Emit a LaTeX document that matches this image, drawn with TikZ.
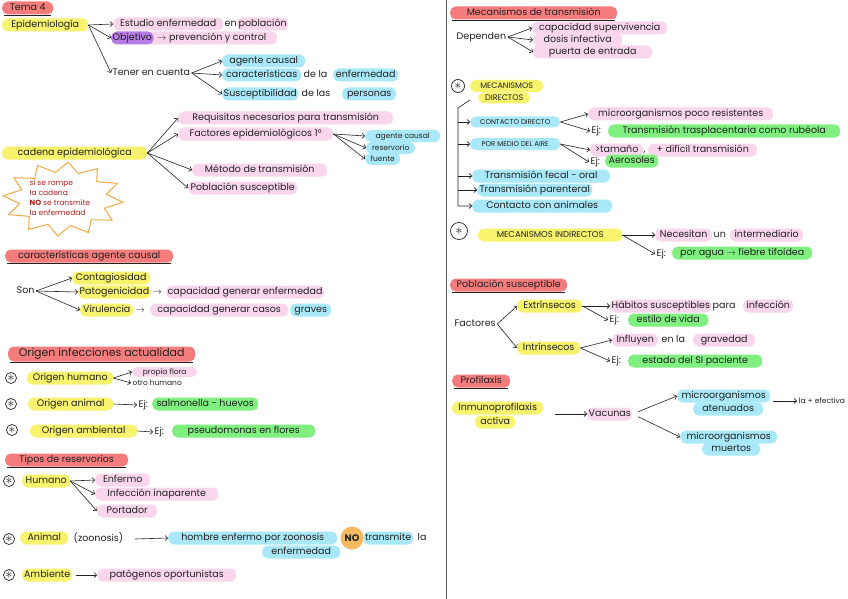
\documentclass[tikz,border=0pt]{standalone}
\usepackage{fontspec}
\setmainfont{Poppins}
\usetikzlibrary{arrows.meta,calc}
\definecolor{ink}{HTML}{222222}
\definecolor{yhl}{HTML}{F8F36C}
\definecolor{phl}{HTML}{FAD6EC}
\definecolor{bhl}{HTML}{A8E8F8}
\definecolor{ghl}{HTML}{7FF07F}
\definecolor{rhl}{HTML}{F47C7C}
\definecolor{vhl}{HTML}{B77CE6}
\definecolor{ohl}{HTML}{F5B95E}
\definecolor{starc}{HTML}{F6A945}
\definecolor{startx}{HTML}{B01C1C}
\definecolor{divc}{HTML}{555555}
\newcommand\fmain{\fontsize{9.5}{11}\selectfont}
\newcommand\fsmall{\fontsize{7.5}{8.5}\selectfont}
\newcommand\ftiny{\fontsize{7}{8}\selectfont}
\newcommand\fbig{\fontsize{11}{13}\selectfont}
\newcommand\bulsym{{\fontsize{15}{15}\selectfont$\ast$}}
\newcommand\hlnode[6]{\node[#1, minimum width={#4pt-#3pt}, anchor=west] (#2) at (#3,#5) {#6};}
\newcommand\ulnode[1]{\draw[uline] ([shift={(2pt,-0.3pt)}]#1.south west) -- ([shift={(-2pt,-0.3pt)}]#1.south east);}
\tikzset{
  every node/.append style={font=\fmain, text=ink, inner xsep=1.5pt, inner ysep=0pt},
  hb/.style={rounded corners=5.5pt, minimum height=13pt, text height=7pt, text depth=2pt},
  Yh/.style={hb, fill=yhl}, Ph/.style={hb, fill=phl}, Bh/.style={hb, fill=bhl},
  Gh/.style={hb, fill=ghl}, Rh/.style={hb, fill=rhl}, Vh/.style={hb, fill=vhl},
  tx/.style={text height=7pt, text depth=2pt},
  arr/.style={draw=ink, line width=0.6pt, -{Straight Barb[length=2.5pt,width=5pt]}},
  ln/.style={draw=ink, line width=0.6pt},
  uline/.style={draw=ink, line width=0.6pt},
  bul/.style={circle, draw=ink, line width=0.7pt, minimum size=11pt, inner sep=0pt},
}
\begin{document}
\begin{tikzpicture}[x=1pt,y=-1pt]
\useasboundingbox (0,0) rectangle (848,599);
\fill[white] (0,0) rectangle (848,599);
% divider
\draw[divc, line width=1pt] (446,0) -- (446,599);

% ================= LEFT COLUMN =================
\hlnode{Rh}{tema}{2}{53}{8}{Tema 4}
\ulnode{tema}
\hlnode{Yh}{epi}{2}{88}{25}{Epidemiología}
\hlnode{Ph}{est1}{113}{223}{24}{Estudio enfermedad}
\node[tx, anchor=west] (est2) at (223,24) {en};
\hlnode{Ph}{est3}{237}{288}{24}{población}
\hlnode{Ph}{obj2}{146}{277}{38}{$\to$ prevención y control}
\hlnode{Vh}{obj}{111}{150}{38}{Objetivo}
\node[tx, anchor=west] (ten) at (111,73) {Tener en cuenta};
\hlnode{Bh}{ag1}{222}{305}{61}{agente causal}
\hlnode{Bh}{car1}{222}{301}{75}{características}
\node[tx, anchor=west] (car2) at (302,75) {de la};
\hlnode{Bh}{car3}{333}{398}{75}{enfermedad}
\hlnode{Bh}{sus1}{222}{298}{94}{Susceptibilidad}
\node[tx, anchor=west] (sus2) at (300,94) {de las};
\hlnode{Bh}{sus3}{342}{396}{94}{personas}
\draw[arr] (epi.east) -- (est1.west);
\draw[arr] (epi.east) -- (obj.west);
\draw[arr] (epi.east) -- (ten.west);
\draw[arr] (ten.east) -- (ag1.west);
\draw[arr] (ten.east) -- (car1.west);
\draw[arr] (ten.east) -- (sus1.west);

% cadena epidemiologica
\hlnode{Yh}{cad}{2}{147}{153}{cadena epidemiológica}
\hlnode{Ph}{req}{178}{393}{118}{Requisitos necesarios para transmisión}
\hlnode{Ph}{fac}{178}{333}{134}{Factores epidemiológicos 1º}
\hlnode{Ph}{met}{192}{327}{170}{Método de transmisión}
\hlnode{Ph}{pob}{188}{297}{188}{Población susceptible}
\draw[arr] (cad.east) -- (req.west);
\draw[arr] (cad.east) -- (fac.west);
\draw[arr] (cad.east) -- (met.west);
\draw[arr] (cad.east) -- (pob.west);
\hlnode{Bh, font=\fsmall, minimum height=12pt}{agc}{365}{440}{136}{agente causal}
\hlnode{Bh, font=\fsmall, minimum height=12pt}{res}{366}{415}{148}{reservorio}
\hlnode{Bh, font=\fsmall, minimum height=12pt}{fue}{365}{400}{159}{fuente}
\draw[arr] (fac.east) -- (agc.west);
\draw[arr] (fac.east) -- (res.west);
\draw[arr] (fac.east) -- (fue.west);

% star
\draw[starc, line width=1pt, fill=white, line join=miter]
  plot[samples at={0,...,23}, variable=\t]
  ({63+ifthenelse(mod(\t,2)==0,60,44)*cos(\t*15+5)},
   {199+ifthenelse(mod(\t,2)==0,37,27)*sin(\t*15+5)}) -- cycle;
\node[anchor=west, align=left, text=startx, font=\fontsize{7.5}{10}\selectfont] (startxt) at (28,198)
  {si se rompe\\la cadena\\\textbf{NO} se transmite\\la enfermedad};

% caracteristicas agente causal
\hlnode{Rh}{cac}{5}{173}{256}{características agente causal}
\ulnode{cac}
\node[tx, anchor=west] (son) at (15,291) {Son};
\hlnode{Yh}{cont}{72}{150}{278}{Contagiosidad}
\hlnode{Yh}{pat}{78}{150}{292}{Patogenicidad}
\node[tx, anchor=west] (patA) at (151,292) {$\to$};
\hlnode{Ph}{pat3}{166}{323}{292}{capacidad generar enfermedad}
\hlnode{Yh}{vir}{80}{133}{310}{Virulencia}
\node[tx, anchor=west] (virA) at (134,310) {$\to$};
\hlnode{Ph}{vir2}{150}{288}{310}{capacidad generar casos}
\hlnode{Bh}{vir3}{290}{331}{310}{graves}
\draw[arr] (son.east) -- (cont.west);
\draw[arr] (son.east) -- (pat.west);
\draw[arr] (son.east) -- (vir.west);

% origen infecciones
\hlnode{Rh, font=\fbig, minimum height=15pt}{ori}{8}{195}{354}{Origen infecciones actualidad}
\ulnode{ori}
\node[bul] (b1) at (11,378) {\bulsym};
\hlnode{Yh}{oh}{27}{113}{378}{Origen humano}
\hlnode{Ph, font=\fsmall, minimum height=10pt}{pf}{132}{197}{372}{propia flora}
\node[tx, anchor=west, font=\fsmall] (oth) at (131,383) {otro humano};
\draw[arr] (oh.east) -- (pf.west);
\draw[arr] (oh.east) -- (oth.west);
\node[bul] (b2) at (11,404) {\bulsym};
\hlnode{Yh}{oa}{28}{113}{404}{Origen animal}
\node[tx, anchor=west] (ej1) at (137,405) {Ej:};
\hlnode{Gh}{sal}{152}{258}{404}{salmonella - huevos}
\draw[arr] (oa.east) -- (ej1.west);
\node[bul] (b3) at (12,430) {\bulsym};
\hlnode{Yh}{oam}{30}{137}{431}{Origen ambiental}
\node[tx, anchor=west] (ej2) at (153,432) {Ej:};
\hlnode{Gh}{pse}{172}{315}{431}{pseudomonas en flores}
\draw[arr] (oam.east) -- (ej2.west);

% tipos de reservorios
\hlnode{Rh}{tip}{5}{128}{460}{Tipos de reservorios}
\ulnode{tip}
\node[bul] (b4) at (9,481) {\bulsym};
\hlnode{Yh}{hum}{22}{70}{481}{Humano}
\hlnode{Ph}{enf}{95}{150}{480}{Enfermo}
\hlnode{Ph}{inf}{95}{218}{494}{Infección inaparente}
\hlnode{Ph}{por}{97}{157}{511}{Portador}
\draw[arr] (hum.east) -- (enf.west);
\draw[arr] (hum.east) -- (inf.west);
\draw[arr] (hum.east) -- (por.west);
\node[bul] (b5) at (9,539) {\bulsym};
\hlnode{Yh}{ani}{20}{68}{538}{Animal}
\node[tx, anchor=west] (zoo) at (72,539) {(zoonosis)};
\hlnode{Bh}{hom}{168}{337}{538}{hombre enfermo por zoonosis}
\node[circle, fill=ohl, minimum size=23pt, inner sep=0pt, font=\fmain\bfseries] (no) at (352,538) {NO};
\hlnode{Bh}{trm}{363}{413}{538}{transmite}
\node[tx, anchor=west] (la) at (416,538) {la};
\hlnode{Bh}{enf2}{262}{340}{552}{enfermedad}
\draw[arr] ([xshift=10pt]zoo.east) -- (hom.west);
\node[bul] (b6) at (9,575) {\bulsym};
\hlnode{Yh}{amb}{22}{72}{575}{Ambiente}
\hlnode{Ph}{pato}{97}{236}{575}{patógenos oportunistas}
\draw[arr, shorten <=4pt] (amb.east) -- (pato.west);

% ================= RIGHT COLUMN =================
\hlnode{Rh}{mec}{450}{617}{13}{Mecanismos de transmisión}
\ulnode{mec}
\node[tx, anchor=west] (dep) at (455,37) {Dependen};
\hlnode{Ph}{cs}{532}{667}{28}{capacidad supervivencia}
\hlnode{Ph}{di}{533}{622}{40}{dosis infectiva}
\hlnode{Ph}{pe}{533}{652}{52}{puerta de entrada}
\draw[arr] (dep.east) -- (cs.west);
\draw[arr] (dep.east) -- (di.west);
\draw[arr] (dep.east) -- (pe.west);

\node[bul, minimum size=13pt] (b7) at (458,86) {\bulsym};
\hlnode{Yh, font=\fontsize{8}{9}\selectfont, minimum height=12pt}{md1}{470}{543}{86}{MECANISMOS}
\hlnode{Yh, font=\fontsize{8}{9}\selectfont, minimum height=11pt}{md2}{478}{530}{98}{DIRECTOS}
\hlnode{Bh, font=\ftiny, minimum height=11pt}{cd}{470}{560}{122}{CONTACTO DIRECTO}
\hlnode{Bh, font=\ftiny, minimum height=12pt}{air}{470}{560}{144}{POR MEDIO DEL AIRE}
\hlnode{Bh}{tfo}{472}{610}{176}{Transmisión fecal - oral}
\hlnode{Bh}{tp}{477}{592}{190}{Transmisión parenteral}
\hlnode{Bh}{cca}{472}{612}{206}{Contacto con animales}
\coordinate (trS) at (470,100);
\coordinate (trT) at (458,108);
\draw[arr] (trS) -- (trT) -- (trT |- cca.west) -- (cca.west);
\draw[arr] (trT |- cd.west) -- (cd.west);
\draw[arr] (trT |- air.west) -- (air.west);
\draw[arr] (trT |- tfo.west) -- (tfo.west);
\draw[arr] (trT |- tp.west) -- (tp.west);

\hlnode{Ph}{mpr}{588}{773}{114}{microorganismos poco resistentes}
\node[tx, anchor=west] (ej3) at (590,131) {Ej:};
\hlnode{Gh}{trs}{608}{840}{131}{Transmisión trasplacentaria como rubéola}
\draw[arr] (cd.east) -- (mpr.west);
\draw[arr] (cd.east) -- (ej3.west);
\hlnode{Ph}{tam}{590}{643}{150}{>tamaño}
\node[tx, anchor=west, inner xsep=0.5pt] (com) at (643,150) {,};
\hlnode{Ph}{dif}{648}{757}{150}{+ difícil transmisión}
\node[tx, anchor=west] (ej4) at (589,162) {Ej:};
\hlnode{Gh}{aer}{605}{658}{161}{Aerosoles}
\draw[arr] (air.east) -- (tam.west);
\draw[arr] (air.east) -- (ej4.west);

\node[bul, minimum size=17pt] (b8) at (459,231) {\bulsym};
\hlnode{Yh, font=\fontsize{8.5}{9}\selectfont}{mi}{478}{622}{235}{MECANISMOS INDIRECTOS}
\hlnode{Ph}{nec}{655}{712}{235}{Necesitan}
\node[tx, anchor=west] (un) at (712,235) {un};
\hlnode{Ph}{int}{730}{803}{235}{intermediario}
\node[tx, anchor=west] (ej5) at (655,254) {Ej:};
\hlnode{Gh}{agua}{672}{812}{253}{por agua $\to$ fiebre tifoidea}
\draw[arr] (mi.east) -- (nec.west);
\draw[arr] (mi.east) -- (ej5.west);

\hlnode{Rh}{pst}{450}{567}{285}{Población susceptible}
\ulnode{pst}
\node[tx, anchor=west] (fct) at (453,324) {Factores};
\hlnode{Yh}{ext}{517}{582}{306}{Extrínsecos}
\hlnode{Yh}{intr}{517}{580}{348}{Intrínsecos}
\draw[arr] (fct.east) -- (ext.west);
\draw[arr] (fct.east) -- (intr.west);
\hlnode{Ph}{hab}{610}{707}{306}{Hábitos susceptibles}
\node[tx, anchor=west] (para) at (711,306) {para};
\hlnode{Ph}{infc}{743}{793}{306}{infección}
\node[tx, anchor=west] (ej6) at (608,320) {Ej:};
\hlnode{Gh}{est}{628}{708}{320}{estilo de vida}
\draw[arr] (ext.east) -- (hab.west);
\draw[arr] (ext.east) -- (ej6.west);
\hlnode{Ph}{infl}{612}{658}{340}{Influyen}
\node[tx, anchor=west] (enla) at (660,340) {en la};
\hlnode{Ph}{grav}{693}{755}{340}{gravedad}
\node[tx, anchor=west] (ej7) at (610,361) {Ej:};
\hlnode{Gh}{esp}{628}{762}{361}{estado del SI paciente}
\draw[arr] (intr.east) -- (infl.west);
\draw[arr] (intr.east) -- (ej7.west);

\hlnode{Rh}{pro}{452}{510}{381}{Profilaxis}
\ulnode{pro}
\hlnode{Yh}{inm}{452}{543}{408}{Inmunoprofilaxis}
\hlnode{Yh}{act}{475}{515}{422}{activa}
\hlnode{Ph}{vac}{587}{632}{414}{Vacunas}
\draw[arr, shorten <=12pt] (inm.east |- vac.west) -- (vac.west);
\hlnode{Bh}{ma1}{677}{770}{396}{microorganismos}
\hlnode{Bh}{ma2}{693}{763}{409}{atenuados}
\hlnode{Bh}{mm1}{680}{777}{437}{microorganismos}
\hlnode{Bh}{mm2}{702}{760}{449}{muertos}
\draw[arr, shorten <=6pt] (vac.east) -- (ma1.west);
\draw[arr, shorten <=6pt] (vac.east) -- (mm1.west);
\node[tx, anchor=west, font=\fsmall] (lme) at (797,401) {la + efectiva};
\draw[arr, shorten <=3pt] (ma1.east |- lme.west) -- (lme.west);
\end{tikzpicture}
\end{document}
